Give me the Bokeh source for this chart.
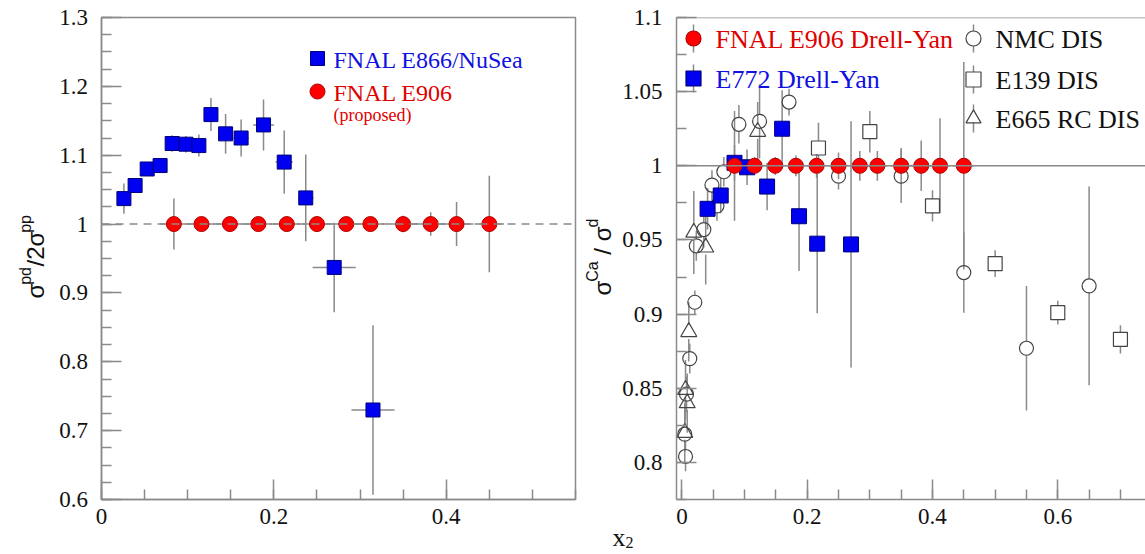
import numpy as np
from bokeh.plotting import figure
from bokeh.layouts import row
from bokeh.models import Range1d, FixedTicker, Label, Span
from bokeh.core.properties import value
from bokeh.embed import file_html
from bokeh.resources import INLINE

# ---------------- data : left panel (sigma_pd / 2 sigma_pp) ----------------
e866_x = [0.026, 0.039, 0.053, 0.068, 0.082, 0.098, 0.113, 0.127, 0.144, 0.162, 0.188, 0.212, 0.237, 0.270, 0.315]
e866_y = [1.037, 1.056, 1.080, 1.085, 1.117, 1.116, 1.114, 1.159, 1.131, 1.125, 1.144, 1.090, 1.038, 0.937, 0.730]
e866_yerr = [0.022, 0.011, 0.010, 0.010, 0.012, 0.012, 0.016, 0.024, 0.029, 0.027, 0.037, 0.046, 0.063, 0.065, 0.123]
e866_xerr = [0.004, 0.004, 0.005, 0.005, 0.006, 0.006, 0.006, 0.007, 0.008, 0.009, 0.012, 0.010, 0.009, 0.025, 0.025]

e906_x = [0.084, 0.116, 0.149, 0.182, 0.215, 0.250, 0.284, 0.312, 0.350, 0.382, 0.412, 0.450]
e906_y = [1.0, 1.0, 1.0, 1.0, 1.0, 1.0, 1.0, 1.0, 1.0, 1.0, 1.0, 1.0]
e906_yerr = [0.037, 0.006, 0.006, 0.007, 0.008, 0.009, 0.010, 0.010, 0.012, 0.017, 0.032, 0.070]
e906_xerr = [0.016, 0.016, 0.016, 0.016, 0.016, 0.017, 0.016, 0.016, 0.017, 0.016, 0.016, 0.017]

# ---------------- data : right panel (sigma_Ca / sigma_d) ----------------
nmc_x = [0.0046, 0.0058, 0.0074, 0.0126, 0.0206, 0.023, 0.035, 0.048, 0.056, 0.067, 0.091, 0.124, 0.171, 0.250, 0.350, 0.450, 0.550, 0.650]
nmc_y = [0.819, 0.804, 0.846, 0.870, 0.908, 0.946, 0.957, 0.987, 0.973, 0.996, 1.028, 1.030, 1.043, 0.993, 0.993, 0.928, 0.877, 0.919]
nmc_err = [0.012, 0.010, 0.012, 0.010, 0.008, 0.010, 0.012, 0.010, 0.010, 0.010, 0.013, 0.025, 0.009, 0.009, 0.018, 0.027, 0.042, 0.067]

e139_x = [0.218, 0.300, 0.400, 0.500, 0.600, 0.700]
e139_y = [1.012, 1.023, 0.973, 0.934, 0.901, 0.883]
e139_err = [0.017, 0.014, 0.0105, 0.009, 0.008, 0.0095]

e665_x = [0.0046, 0.0058, 0.0085, 0.011, 0.019, 0.038, 0.121]
e665_y = [0.820, 0.849, 0.840, 0.888, 0.955, 0.945, 1.023]
e665_err = [0.020, 0.020, 0.020, 0.020, 0.028, 0.025, 0.020]

e772_x = [0.041, 0.062, 0.084, 0.104, 0.136, 0.160, 0.187, 0.216, 0.270]
e772_y = [0.971, 0.980, 1.002, 0.999, 0.986, 1.025, 0.966, 0.9475, 0.947]
e772_err = [0.014, 0.012, 0.012, 0.012, 0.016, 0.026, 0.037, 0.047, 0.083]

# ticks
left_xticks = [0.0, 0.2, 0.4]
left_xlabels = ["0", "0.2", "0.4"]
left_yticks = [0.6, 0.7, 0.8, 0.9, 1.0, 1.1, 1.2, 1.3]
left_ylabels = ["0.6", "0.7", "0.8", "0.9", "1", "1.1", "1.2", "1.3"]
right_xticks = [0.0, 0.2, 0.4, 0.6]
right_xlabels = ["0", "0.2", "0.4", "0.6"]
right_yticks = [0.8, 0.85, 0.9, 0.95, 1.0, 1.05, 1.1]
right_ylabels = ["0.8", "0.85", "0.9", "0.95", "1", "1.05", "1.1"]

# ---------------- styling / layout ----------------
GREY = "#8a8a8a"
SERIF = "Liberation Serif"
SANS = "Liberation Sans"
RED_F, RED_L = "#ff0000", "#b00000"
BLUE_F, BLUE_L = "#0000f0", "#00007a"
OPEN = "#444444"
H = 554
FT, FB = 17, 499          # frame top / bottom (page px)
L_FRAME, R_FRAME = 101, 676   # frame left edges (page px)
L_STRIP, R_STRIP = 88, 670    # right edges of the title strips (page px)


def style_axes(p, xt, xl, xminor, yt, yminor):
    p.xaxis.ticker = FixedTicker(ticks=xt, minor_ticks=xminor)
    p.yaxis.ticker = FixedTicker(ticks=yt, minor_ticks=yminor)
    p.xaxis.major_label_overrides = {float(t): s for t, s in zip(xt, xl)}
    # y tick labels are drawn in the title strip next to the panel
    p.yaxis.major_label_overrides = {float(t): "" for t in yt}
    p.yaxis.major_label_standoff = 0
    for ax in (p.xaxis[0], p.yaxis[0]):
        ax.axis_line_color = GREY
        ax.axis_line_width = 1.5
        ax.major_tick_line_color = GREY
        ax.major_tick_line_width = 1.5
        ax.minor_tick_line_color = GREY
        ax.minor_tick_line_width = 1.5
        ax.major_tick_in = 20
        ax.major_tick_out = 0
        ax.minor_tick_in = 10
        ax.minor_tick_out = 0
        ax.major_label_text_font = SERIF
        ax.major_label_text_font_size = "23px"
        ax.major_label_text_color = "#111111"
    p.xaxis.major_label_standoff = 9
    p.xgrid.visible = False
    p.ygrid.visible = False


def strip(width, xr, yr):
    f = figure(width=width, height=H, x_range=xr, y_range=yr,
               x_axis_type=None, y_axis_type=None, output_backend="svg", toolbar_location=None,
               min_border_left=0, min_border_right=0, min_border_top=0, min_border_bottom=0,
               frame_align=False)
    f.outline_line_color = None
    return f


def rot_label(p, pieces, x_main, x_sup, y_start, to_y):
    """pieces: (text, font px, superscript?, advance px). Text runs upward."""
    y = y_start
    for txt, fs, sup, adv in pieces:
        p.text(x=[x_sup if sup else x_main], y=[to_y(y)], text=[txt], angle=np.pi / 2,
               text_font=value(SANS), text_font_size=value(f"{fs}px"), text_color="#111111",
               text_align="left", text_baseline="alphabetic")
        y -= adv


def tick_labels(p, x_right, ticks, labels):
    p.text(x=x_right, y=ticks, text=labels, text_font=value(SERIF), text_font_size=value("23px"),
           text_color="#111111", text_align="right", text_baseline="middle")


# ================= LEFT PANEL GEOMETRY =================
LX0, LX1, LY0, LY1 = 0.0, 0.55, 0.6, 1.3
LYPU = (FB - FT) / (LY1 - LY0)


def ly_of(yp):
    return LY1 - (yp - FT) / LYPU


# ================= LEFT TITLE STRIP (y tick labels, axis title) =================
fL = strip(L_STRIP, Range1d(0, L_STRIP), Range1d(ly_of(H), ly_of(0)))
tick_labels(fL, 87.5, left_yticks, left_ylabels)
rot_label(fL, [("σ", 24, False, 13.7), ("pd", 16, True, 18.3), ("/2σ", 24, False, 33.7), ("pp", 16, True, 18)],
          35, 25, 298, ly_of)

# ================= LEFT FIGURE =================
p1 = figure(width=580 - L_STRIP, height=H, x_range=Range1d(LX0, LX1), y_range=Range1d(LY0, LY1),
            output_backend="svg", toolbar_location=None,
            min_border_left=L_FRAME - L_STRIP, min_border_right=5, min_border_top=FT, min_border_bottom=H - FB)
p1.outline_line_color = GREY
p1.outline_line_width = 1.5
style_axes(p1, left_xticks, left_xlabels, list(np.round(np.arange(0, 0.551, 0.05), 3)),
           left_yticks, list(np.round(np.arange(0.6, 1.3001, 0.025), 4)))


def lpx(xp, yp):
    return LX0 + (xp - L_FRAME) / 474 * (LX1 - LX0), ly_of(yp)


p1.add_layout(Span(location=1.0, dimension="width", line_color=GREY, line_width=1.5, line_dash="8 6"))

bx = np.array(e866_x); by = np.array(e866_y); bye = np.array(e866_yerr); bxe = np.array(e866_xerr)
p1.segment(bx, by - bye, bx, by + bye, line_color=GREY, line_width=1.5)
p1.segment(bx - bxe, by, bx + bxe, by, line_color=GREY, line_width=1.5)
rx = np.array(e906_x); ry = np.array(e906_y); rye = np.array(e906_yerr); rxe = np.array(e906_xerr)
p1.segment(rx, ry - rye, rx, ry + rye, line_color=GREY, line_width=1.5)
p1.segment(rx - rxe, ry, rx + rxe, ry, line_color=GREY, line_width=1.5)
p1.scatter(bx, by, marker="square", size=14, fill_color=BLUE_F, line_color=BLUE_L, line_width=1)
p1.scatter(rx, ry, marker="circle", size=15, fill_color=RED_F, line_color=RED_L, line_width=1)

# legend (left)
mx, my = lpx(317, 58)
p1.scatter([mx], [my], marker="square", size=14, fill_color=BLUE_F, line_color=BLUE_L)
mx, my = lpx(317, 91)
p1.scatter([mx], [my], marker="circle", size=15, fill_color=RED_F, line_color=RED_L)
tx, ty = lpx(333, 59)
p1.add_layout(Label(x=tx, y=ty, text="FNAL E866/NuSea", text_font=SERIF, text_font_size="24px",
                    text_color="#1010e0", text_baseline="middle", text_align="left"))
tx, ty = lpx(333, 92)
p1.add_layout(Label(x=tx, y=ty, text="FNAL E906", text_font=SERIF, text_font_size="24px",
                    text_color="#e00000", text_baseline="middle", text_align="left"))
tx, ty = lpx(333, 114)
p1.add_layout(Label(x=tx, y=ty, text="(proposed)", text_font=SERIF, text_font_size="18px",
                    text_color="#e00000", text_baseline="middle", text_align="left"))

# ================= RIGHT PANEL GEOMETRY =================
RX0, RY0, RY1 = -0.0086, 0.775, 1.1
RXPU = 626.5                      # px per x unit
RX1 = RX0 + (1145 - R_FRAME) / RXPU
YPU = (FB - FT) / (RY1 - RY0)     # px per y unit


def ry_of(yp):
    return RY1 - (yp - FT) / YPU


# ================= RIGHT TITLE STRIP (y tick labels, axis titles) =================
fR = strip(R_STRIP - 580, Range1d(580, R_STRIP), Range1d(ry_of(H), ry_of(0)))
tick_labels(fR, 662, right_yticks, right_ylabels)
rot_label(fR, [("σ", 24, False, 13.7), ("Ca", 16, True, 27), ("/", 24, False, 13.5),
               ("σ", 24, False, 13.7), ("d", 16, True, 9)],
          602, 592, 295, ry_of)
fR.text(x=[612], y=[ry_of(537)], text=["x"], text_font=value(SERIF), text_font_size=value("26px"),
        text_color="#111111", text_align="left", text_baseline="alphabetic")
fR.text(x=[625], y=[ry_of(542)], text=["2"], text_font=value(SERIF), text_font_size=value("16px"),
        text_color="#111111", text_align="left", text_baseline="alphabetic")

# ================= RIGHT FIGURE =================
p2 = figure(width=1145 - R_STRIP, height=H, x_range=Range1d(RX0, RX1), y_range=Range1d(RY0, RY1),
            output_backend="svg", toolbar_location=None,
            min_border_left=R_FRAME - R_STRIP, min_border_right=0, min_border_top=FT, min_border_bottom=H - FB)
p2.outline_line_color = None
style_axes(p2, right_xticks, right_xlabels, list(np.round(np.arange(0, 0.751, 0.05), 3)),
           right_yticks, list(np.round(np.arange(0.775, 1.1001, 0.025), 4)))
p2.add_layout(Span(location=RY1, dimension="width", line_color=GREY, line_width=1.5))
p2.add_layout(Span(location=1.0, dimension="width", line_color=GREY, line_width=1.5))


def rpx(xp, yp):
    return RX0 + (xp - R_FRAME) / RXPU, ry_of(yp)


def open_err(p, xs, ys, es, gap_px=7):
    xs = np.array(xs); ys = np.array(ys); es = np.array(es)
    gap = gap_px / YPU
    keep = es > gap
    x, y, e = xs[keep], ys[keep], es[keep]
    p.segment(x, y + gap, x, y + e, line_color=GREY, line_width=1.5)
    p.segment(x, y - gap, x, y - e, line_color=GREY, line_width=1.5)


open_err(p2, nmc_x, nmc_y, nmc_err)
open_err(p2, e139_x, e139_y, e139_err)
open_err(p2, e665_x, e665_y, e665_err)

ex = np.array(e772_x); ey = np.array(e772_y); ee = np.array(e772_err)
p2.segment(ex, ey - ee, ex, ey + ee, line_color=GREY, line_width=1.5)
p2.segment(rx, ry - rye, rx, ry + rye, line_color=GREY, line_width=1.5)
p2.segment(rx - rxe, ry, rx + rxe, ry, line_color=GREY, line_width=1.5)

p2.scatter(nmc_x, nmc_y, marker="circle", size=14, fill_color=None, line_color=OPEN, line_width=1.2)
p2.scatter(e139_x, e139_y, marker="square", size=14, fill_color=None, line_color=OPEN, line_width=1.2)
p2.scatter(e665_x, e665_y, marker="triangle", size=16, fill_color=None, line_color=OPEN, line_width=1.2)
p2.scatter(ex, ey, marker="square", size=15, fill_color=BLUE_F, line_color=BLUE_L, line_width=1)
p2.scatter(rx, ry, marker="circle", size=15, fill_color=RED_F, line_color=RED_L, line_width=1)

# legend (right)
leg = [
    (693, 38, "circle", RED_F, RED_L, "FNAL E906 Drell-Yan", "#e00000"),
    (693, 78, "square", BLUE_F, BLUE_L, "E772 Drell-Yan", "#1010e0"),
    (973, 38, "circle", None, OPEN, "NMC DIS", "#111111"),
    (973, 79, "square", None, OPEN, "E139 DIS", "#111111"),
    (973, 118, "triangle", None, OPEN, "E665 RC DIS", "#111111"),
]
for xp, yp, mk, fc, lc, txt, tc in leg:
    mx, my = rpx(xp, yp)
    _, ytop = rpx(xp, yp - 14)
    _, ybot = rpx(xp, yp + 14)
    p2.segment([mx], [ybot], [mx], [ytop], line_color=GREY, line_width=1.5)
    p2.scatter([mx], [my], marker=mk, size=15, fill_color=fc if fc else "white", line_color=lc, line_width=1.2)
    tx, ty = rpx(xp + 22, yp + 1)
    p2.add_layout(Label(x=tx, y=ty, text=txt, text_font=SERIF, text_font_size="26px",
                        text_color=tc, text_baseline="middle", text_align="left"))

layout = row(fL, p1, fR, p2)
open("out.html", "w").write(file_html(layout, INLINE))
